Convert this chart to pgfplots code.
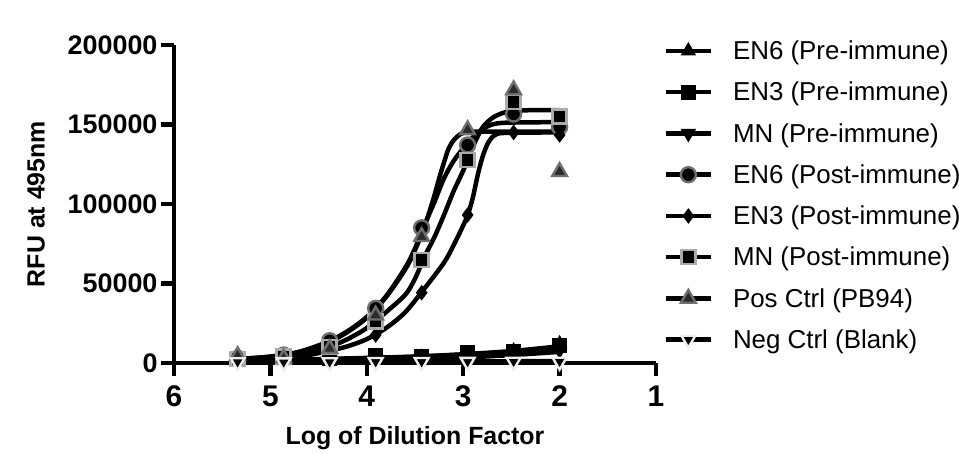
\documentclass[border=0pt]{standalone}
\usepackage{pgfplots}
\pgfplotsset{compat=1.18}
\usepackage{fontspec}
\setmainfont{Liberation Sans}
\definecolor{brdA}{HTML}{6E6E6E}
\definecolor{brdB}{HTML}{ABABAB}
\definecolor{brdC}{HTML}{EEEEEE}
\definecolor{fillP}{HTML}{2A2A2A}
\pgfplotsset{
  leg/.style={legend image code/.code={%
    \draw[black,line width=4.5bp] (0cm,0cm) -- (1.6cm,0cm);
    \path[draw=none,fill=none] (1.6cm,0cm) ++(20bp,0bp);
    \draw plot coordinates {(0.8cm,0cm)};}},
  curve/.style={black, line width=4.5bp, smooth, tension=0.5, forget plot, mark=none},
}
\begin{document}
\begin{tikzpicture}
\path[use as bounding box] (0,0) rectangle (959bp,454bp);
\begin{axis}[
  at={(174bp,91bp)}, anchor=south west,
  scale only axis, width=482bp, height=318bp,
  xmin=1, xmax=6, x dir=reverse, ymin=0, ymax=200000,
  axis lines=left, axis line style={line width=4.5bp, -},
  xtick={1,2,3,4,5,6}, ytick={0,50000,100000,150000,200000},
  tick align=outside, major tick length=13bp,
  tick style={line width=4.5bp, black},
  /pgf/number format/assume math mode=true,
  scaled y ticks=false,
  yticklabel style={/pgf/number format/fixed, /pgf/number format/1000 sep={}, font=\bfseries\fontsize{27}{32}\selectfont},
  xticklabel style={font=\bfseries\fontsize{30}{34}\selectfont, yshift=-6bp},
  xlabel={Log of Dilution Factor}, ylabel={RFU at 495nm},
  label style={font=\bfseries\fontsize{25}{30}\selectfont},
  xlabel style={yshift=-13bp},
  ylabel style={yshift=16bp},
  clip=false,
  legend style={at={(1.015,1.02)}, anchor=north west, draw=none, fill=none,
    font=\fontsize{26}{30}\selectfont, row sep=17bp, inner sep=0pt},
  legend cell align=left,
]
% fitted curves
\addplot[curve] coordinates {(5.34,1500)(4.5,2200)(4.0,3000)(3.5,4000)(3.0,5500)(2.5,7500)(2.0,10500)};
\addplot[curve] coordinates {(5.34,2000)(4.5,2500)(4.0,3200)(3.5,4000)(3.0,5300)(2.5,7000)(2.0,9500)};
\addplot[curve] coordinates {(5.34,1000)(4.0,2000)(3.0,3500)(2.5,5000)(2.0,7000)};
\addplot[curve] coordinates {(5.34,800)(4.0,900)(3.0,1000)(2.0,1200)};
% EN6 post
\addplot[curve] coordinates {(5.34,2500)(5.0,4000)(4.7,7000)(4.4,13500)(4.2,20000)(4.0,29000)(3.8,42000)(3.6,60000)(3.5,72000)(3.4,87000)(3.3,101000)(3.2,116000)(3.1,127000)(3.0,135000)(2.9,142000)(2.8,147000)(2.7,150000)(2.6,151000)(2.4,151300)(2.0,151500)};
% EN3 post
\addplot[curve] coordinates {(5.34,1500)(5.0,2500)(4.7,4000)(4.4,7500)(4.2,10500)(4.0,15000)(3.8,22000)(3.6,32000)(3.4,47000)(3.2,63000)(3.1,74000)(3.0,86500)(2.95,93500)(2.9,104000)(2.85,118000)(2.8,129500)(2.75,137500)(2.7,142000)(2.65,144000)(2.6,144600)(2.4,144900)(2.0,145000)};
% MN post
\addplot[curve] coordinates {(5.34,2000)(5.0,3500)(4.7,5500)(4.4,10000)(4.2,15000)(4.0,22000)(3.8,32000)(3.6,43000)(3.5,53000)(3.4,67000)(3.3,79000)(3.2,93000)(3.1,108000)(3.0,121000)(2.9,136000)(2.8,148000)(2.7,154000)(2.6,157000)(2.5,158500)(2.3,159000)(2.0,159100)};
% Pos ctrl
\addplot[curve] coordinates {(5.34,2500)(5.0,4000)(4.7,7000)(4.4,13000)(4.2,19500)(4.0,28500)(3.8,41500)(3.6,59000)(3.5,71000)(3.4,86000)(3.3,105000)(3.25,116000)(3.2,126000)(3.15,135000)(3.1,140000)(3.05,143000)(3.0,144700)(2.9,145400)(2.8,145500)(2.0,145500)};

% data points
\addplot[leg, only marks, mark=triangle*, mark size=8bp, mark options={fill=black, draw=black, line width=1bp}]
  coordinates {(5.340,3500)(4.862,1500)(4.385,3000)(3.908,4000)(3.431,3500)(2.954,5000)(2.477,7500)(2.000,12000)};
\addlegendentry{EN6 (Pre-immune)}
\addplot[leg, only marks, mark=square*, mark size=7bp, mark options={fill=black, draw=black, line width=1bp}]
  coordinates {(5.340,2500)(4.862,4000)(4.385,3000)(3.908,5000)(3.431,4000)(2.954,6500)(2.477,7000)(2.000,11000)};
\addlegendentry{EN3 (Pre-immune)}
\addplot[leg, only marks, mark=triangle*, mark size=8bp, mark options={rotate=180, fill=black, draw=black, line width=1bp}]
  coordinates {(5.340,1500)(4.862,1000)(4.385,2000)(3.908,2500)(3.431,2500)(2.954,3500)(2.477,5000)(2.000,8000)};
\addlegendentry{MN (Pre-immune)}
\addplot[leg, only marks, mark=*, mark size=7.5bp, mark options={fill=black, draw=brdA, line width=2.4bp}]
  coordinates {(5.340,3000)(4.862,5000)(4.385,14000)(3.908,34400)(3.431,85000)(2.954,137100)(2.477,156600)(2.000,148400)};
\addlegendentry{EN6 (Post-immune)}
\addplot[leg, only marks, mark=diamond*, mark size=7bp, mark options={fill=black, draw=black, line width=1bp}]
  coordinates {(5.340,2000)(4.862,2500)(4.385,7000)(3.908,17600)(3.431,44200)(2.954,93100)(2.477,145000)(2.000,143400)};
\addlegendentry{EN3 (Post-immune)}
\addplot[leg, only marks, mark=square*, mark size=7bp, mark options={fill=black, draw=brdB, line width=2.4bp}]
  coordinates {(5.340,2500)(4.862,4000)(4.385,10000)(3.908,26000)(3.431,64800)(2.954,127700)(2.477,164300)(2.000,155000)};
\addlegendentry{MN (Post-immune)}
\addplot[leg, only marks, mark=triangle*, mark size=8.5bp, mark options={fill=fillP, draw=brdA, line width=2.4bp}]
  coordinates {(5.340,4500)(4.862,3000)(4.385,9000)(3.908,30000)(3.431,79400)(2.954,146600)(2.477,171700)(2.000,120300)};
\addlegendentry{Pos Ctrl (PB94)}
\addplot[leg, only marks, mark=triangle*, mark size=8bp, mark options={rotate=180, fill=black, draw=brdC, line width=2.4bp}]
  coordinates {(5.340,500)(4.862,400)(4.385,500)(3.908,600)(3.431,600)(2.954,700)(2.477,800)(2.000,800)};
\addlegendentry{Neg Ctrl (Blank)}
\end{axis}
\end{tikzpicture}
\end{document}
